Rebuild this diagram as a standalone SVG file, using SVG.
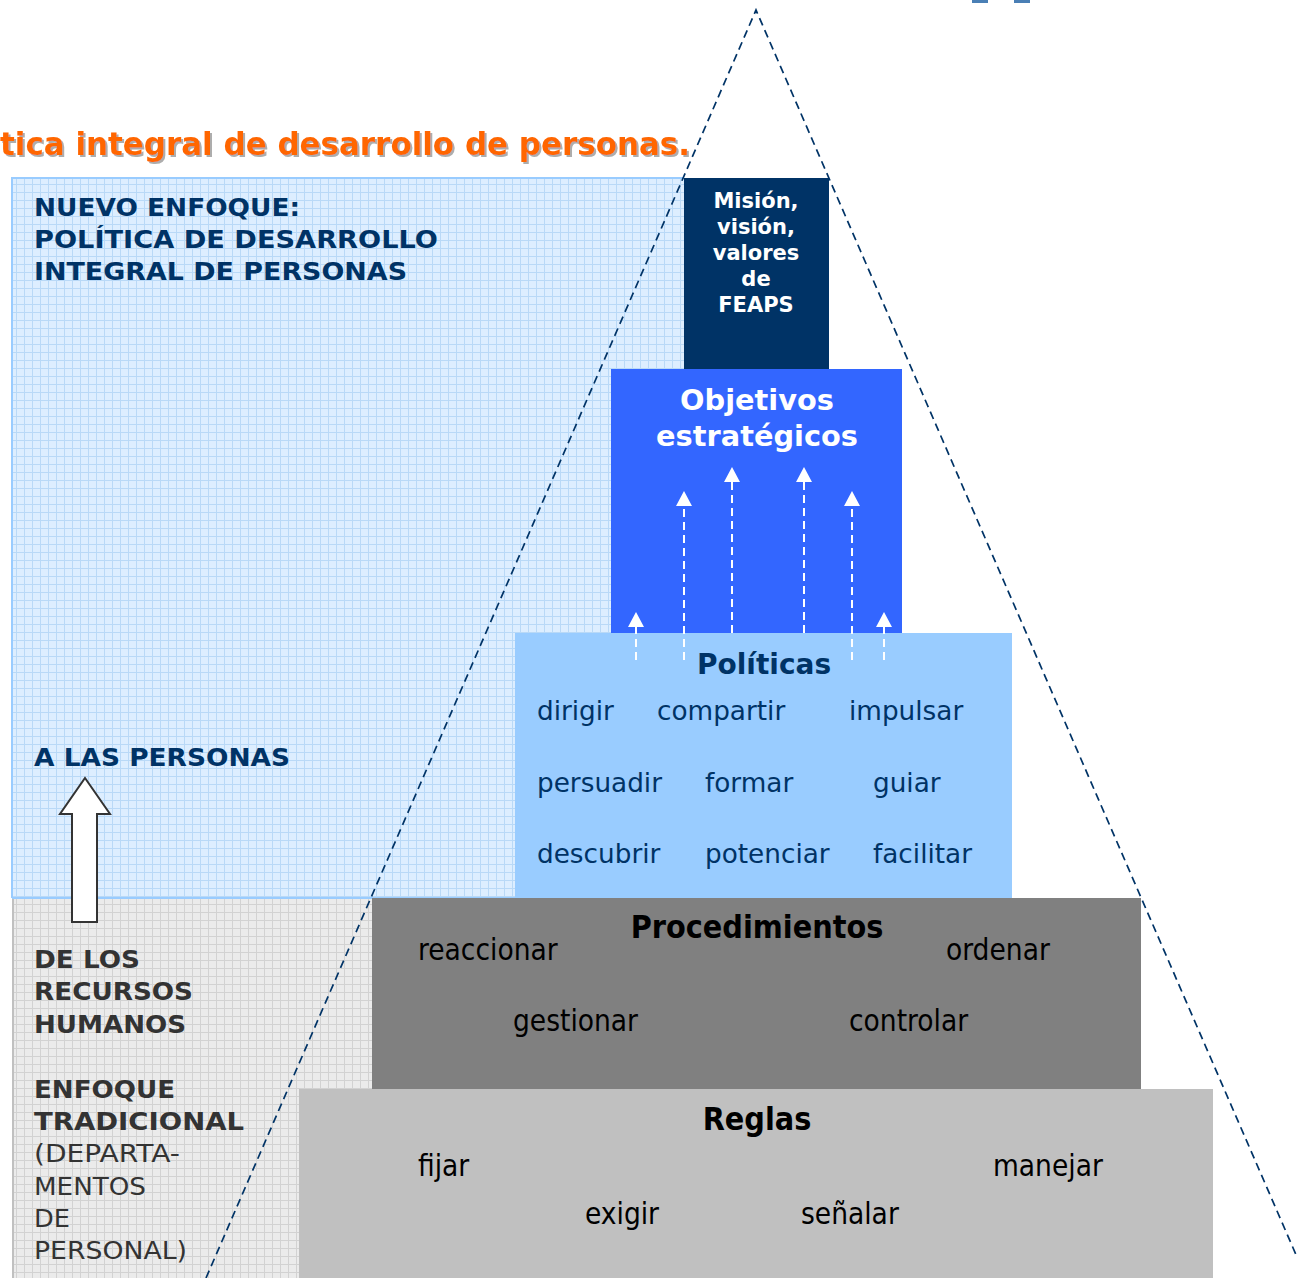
<svg xmlns="http://www.w3.org/2000/svg" width="1298" height="1278" viewBox="0 0 1298 1278">
  <style>
    .b { font-family: "DejaVu Sans", "Liberation Sans", sans-serif; font-weight: bold; }
    .r { font-family: "DejaVu Sans", "Liberation Sans", sans-serif; }
    .cb { font-family: "DejaVu Sans Condensed", "DejaVu Sans", sans-serif; font-stretch: condensed; font-weight: bold; }
    .cr { font-family: "DejaVu Sans Condensed", "DejaVu Sans", sans-serif; font-stretch: condensed; }
    .navy { fill: #003366; }
    .dark { fill: #333333; }
    .white { fill: #ffffff; }
    .blk { fill: #000000; }
    .up { stroke: #ffffff; stroke-width: 2; stroke-dasharray: 8 5; fill: none; }
    .head { fill: #ffffff; }
  </style>
  <defs>
    <pattern id="gridBlue" width="8" height="8" patternUnits="userSpaceOnUse">
      <rect width="8" height="8" fill="#ddeeff"/>
      <path d="M0 0.5H8M0.5 0V8" stroke="#b9d9f7" stroke-width="1"/>
    </pattern>
    <pattern id="gridGrey" width="8" height="8" patternUnits="userSpaceOnUse">
      <rect width="8" height="8" fill="#ebebeb"/>
      <path d="M0 0.5H8M0.5 0V8" stroke="#d2d2d2" stroke-width="1"/>
    </pattern>
    <filter id="shadow" x="-5%" y="-20%" width="110%" height="150%">
      <feDropShadow dx="2" dy="2" stdDeviation="0.6" flood-color="#999999" flood-opacity="0.8"/>
    </filter>
  </defs>

  <rect width="1298" height="1278" fill="#ffffff"/>

  <!-- top-right fragments -->
  <rect x="972" y="0" width="16" height="3" fill="#4a7fb5"/>
  <rect x="1014" y="0" width="16" height="3" fill="#4a7fb5"/>

  <!-- title -->
  <text id="title" x="0" y="155" class="cb" font-size="32" fill="#ff6600" filter="url(#shadow)" textLength="690" lengthAdjust="spacingAndGlyphs">tica integral de desarrollo de personas.</text>

  <!-- background areas -->
  <g id="area-new">
    <rect x="12" y="178" width="672" height="720" fill="url(#gridBlue)"/>
    <path d="M12 898V178H684" fill="none" stroke="#99ccff" stroke-width="2"/>
    <path d="M12 898H515" stroke="#99ccff" stroke-width="2"/>
  </g>
  <g id="area-trad">
    <rect x="12" y="899" width="360" height="379" fill="url(#gridGrey)"/>
    <path d="M13 899V1278" stroke="#c0c0c0" stroke-width="2"/>
  </g>

  <!-- left texts -->
  <g id="label-new">
    <text class="b navy" font-size="24.5" x="34" y="216" textLength="266" lengthAdjust="spacingAndGlyphs">NUEVO ENFOQUE:</text>
    <text class="b navy" font-size="24.5" x="34" y="248" textLength="404" lengthAdjust="spacingAndGlyphs">POLÍTICA DE DESARROLLO</text>
    <text class="b navy" font-size="24.5" x="34" y="280" textLength="373" lengthAdjust="spacingAndGlyphs">INTEGRAL DE PERSONAS</text>
  </g>
  <g id="label-personas">
    <text class="b navy" font-size="24.5" x="34" y="766" textLength="256" lengthAdjust="spacingAndGlyphs">A LAS PERSONAS</text>
  </g>
  <g id="label-rrhh">
    <text class="b dark" font-size="24.5" x="34" y="968" textLength="106" lengthAdjust="spacingAndGlyphs">DE LOS</text>
    <text class="b dark" font-size="24.5" x="34" y="1000" textLength="159" lengthAdjust="spacingAndGlyphs">RECURSOS</text>
    <text class="b dark" font-size="24.5" x="34" y="1033" textLength="152" lengthAdjust="spacingAndGlyphs">HUMANOS</text>
  </g>
  <g id="label-trad">
    <text class="b dark" font-size="24.5" x="34" y="1098" textLength="141" lengthAdjust="spacingAndGlyphs">ENFOQUE</text>
    <text class="b dark" font-size="24.5" x="34" y="1130" textLength="210" lengthAdjust="spacingAndGlyphs">TRADICIONAL</text>
    <text class="r dark" font-size="24.5" x="34" y="1162" textLength="146" lengthAdjust="spacingAndGlyphs">(DEPARTA-</text>
    <text class="r dark" font-size="24.5" x="34" y="1195" textLength="112" lengthAdjust="spacingAndGlyphs">MENTOS</text>
    <text class="r dark" font-size="24.5" x="34" y="1227" textLength="36" lengthAdjust="spacingAndGlyphs">DE</text>
    <text class="r dark" font-size="24.5" x="34" y="1259" textLength="153" lengthAdjust="spacingAndGlyphs">PERSONAL)</text>
  </g>

  <!-- big white arrow -->
  <g id="arrow-up">
    <path d="M85 778L110 814H97V922H72V814H60Z" fill="#ffffff" stroke="#333333" stroke-width="2" stroke-linejoin="miter"/>
  </g>

  <!-- pyramid -->
  <g id="reglas">
    <rect x="299" y="1089" width="914" height="189" fill="#c0c0c0"/>
    <text class="cb blk" font-size="32" x="757" y="1130" text-anchor="middle">Reglas</text>
    <text class="cr blk" font-size="29.5" x="418" y="1176">fijar</text>
    <text class="cr blk" font-size="29.5" x="993" y="1176">manejar</text>
    <text class="cr blk" font-size="29.5" x="585" y="1224">exigir</text>
    <text class="cr blk" font-size="29.5" x="801" y="1224">señalar</text>
  </g>
  <g id="procedimientos">
    <rect x="372" y="898" width="769" height="191" fill="#808080"/>
    <text class="cb blk" font-size="32" x="757" y="938" text-anchor="middle">Procedimientos</text>
    <text class="cr blk" font-size="29.5" x="418" y="960">reaccionar</text>
    <text class="cr blk" font-size="29.5" x="946" y="960">ordenar</text>
    <text class="cr blk" font-size="29.5" x="513" y="1031">gestionar</text>
    <text class="cr blk" font-size="29.5" x="849" y="1031">controlar</text>
  </g>
  <g id="politicas">
    <rect x="515" y="633" width="497" height="265" fill="#99ccff"/>
    <text class="b navy" font-size="28" x="764" y="674" text-anchor="middle">Políticas</text>
    <text class="r navy" font-size="26.3" x="537" y="720">dirigir</text>
    <text class="r navy" font-size="26.3" x="657" y="720">compartir</text>
    <text class="r navy" font-size="26.3" x="849" y="720">impulsar</text>
    <text class="r navy" font-size="26.3" x="537" y="792">persuadir</text>
    <text class="r navy" font-size="26.3" x="705" y="792">formar</text>
    <text class="r navy" font-size="26.3" x="873" y="792">guiar</text>
    <text class="r navy" font-size="26.3" x="537" y="863">descubrir</text>
    <text class="r navy" font-size="26.3" x="705" y="863">potenciar</text>
    <text class="r navy" font-size="26.3" x="873" y="863">facilitar</text>
  </g>
  <g id="objetivos">
    <rect x="611" y="369" width="291" height="264" fill="#3366ff"/>
    <text class="b white" font-size="28.8" x="757" y="410" text-anchor="middle">Objetivos</text>
    <text class="b white" font-size="28.8" x="757" y="446" text-anchor="middle">estratégicos</text>
  </g>
  <g id="mision">
    <rect x="684" y="178" width="145" height="191" fill="#003366"/>
    <text class="b white" font-size="21" x="756" y="208" text-anchor="middle">Misión,</text>
    <text class="b white" font-size="21" x="756" y="234" text-anchor="middle">visión,</text>
    <text class="b white" font-size="21" x="756" y="260" text-anchor="middle">valores</text>
    <text class="b white" font-size="21" x="756" y="286" text-anchor="middle">de</text>
    <text class="b white" font-size="21" x="756" y="312" text-anchor="middle">FEAPS</text>
  </g>

  <!-- connectors -->
  <g id="connectors">
    <line class="up" x1="636" y1="660" x2="636" y2="627"/>
    <line class="up" x1="684" y1="660" x2="684" y2="506"/>
    <line class="up" x1="732" y1="633" x2="732" y2="482"/>
    <line class="up" x1="804" y1="633" x2="804" y2="482"/>
    <line class="up" x1="852" y1="660" x2="852" y2="506"/>
    <line class="up" x1="884" y1="660" x2="884" y2="627"/>
    <path class="head" d="M636 612L644 627H628Z"/>
    <path class="head" d="M684 491L692 506H676Z"/>
    <path class="head" d="M732 467L740 482H724Z"/>
    <path class="head" d="M804 467L812 482H796Z"/>
    <path class="head" d="M852 491L860 506H844Z"/>
    <path class="head" d="M884 612L892 627H876Z"/>
    <path d="M206 1278L756 10L1297 1257" fill="none" stroke="#003366" stroke-width="1.7" stroke-dasharray="8 5"/>
  </g>
</svg>
